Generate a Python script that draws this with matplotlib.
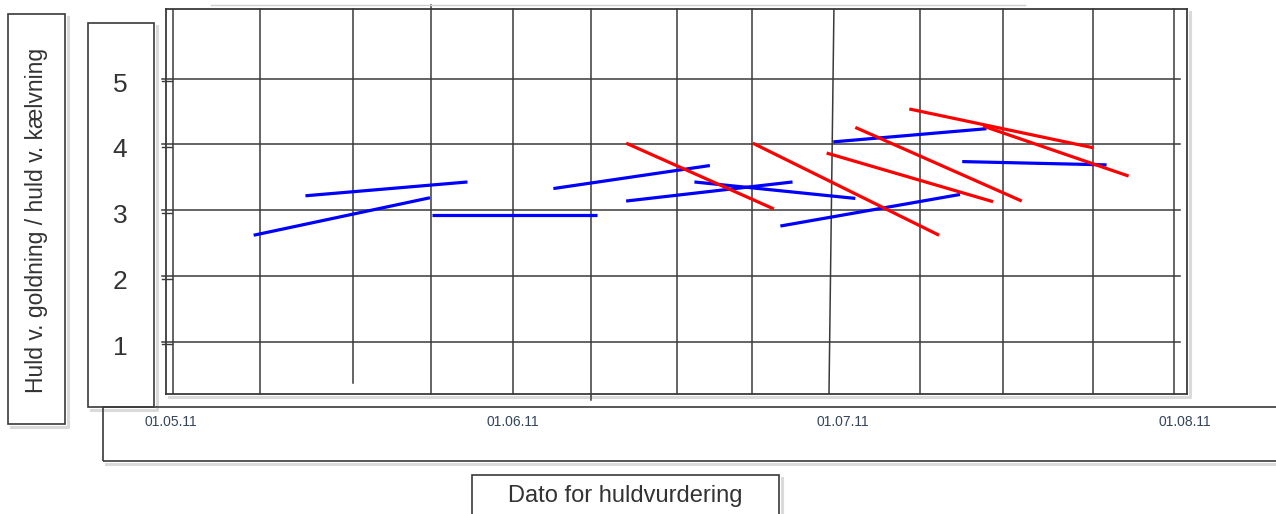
import matplotlib

matplotlib.use("Agg")
import matplotlib.pyplot as plt
import matplotlib.transforms as mtransforms
from matplotlib.patches import Rectangle
from matplotlib.lines import Line2D

plt.rcParams["font.family"] = ["Liberation Sans", "DejaVu Sans"]

W, H = 1276, 514

# x in days since 01.05.11, y = huld score
blue_x0 = [7.5, 12.2, 23.7, 34.7, 41.3, 47.5, 55.3, 60.1, 71.8]
blue_x1 = [23.5, 26.9, 38.7, 48.9, 56.4, 62.1, 71.6, 74.0, 84.9]
blue_y0 = [2.62, 3.22, 2.93, 3.33, 3.14, 3.43, 2.76, 4.04, 3.74]
blue_y1 = [3.19, 3.43, 2.93, 3.68, 3.43, 3.18, 3.24, 4.24, 3.69]

red_x0 = [41.3, 52.8, 59.5, 62.1, 67.0, 73.7]
red_x1 = [54.7, 69.7, 74.6, 77.2, 83.7, 86.9]
red_y0 = [4.02, 4.02, 3.87, 4.26, 4.54, 4.28]
red_y1 = [3.02, 2.62, 3.13, 3.14, 3.95, 3.52]

y_ticks = [1, 2, 3, 4, 5]
x_tick_days = [0, 31, 61, 92]
x_tick_labels = ["01.05.11", "01.06.11", "01.07.11", "01.08.11"]

# hand-drawn vertical grid (days) and where each line starts / ends
grid_days = [8.1, 16.5, 23.6, 31.0, 38.1, 45.9, 52.75, 68.0, 75.5, 83.7, 91.0]
grid_lo = [0.201, 0.373, 0.201, 0.201, 0.11, 0.201, 0.201, 0.201, 0.201, 0.201, 0.201]
grid_hi = [6.056, 6.056, 6.12, 6.056, 6.056, 6.056, 6.056, 6.056, 6.056, 6.056, 6.056]

GRID = "#3a3a3a"
TXT = "#333333"
SHADOW = "#dadada"


def fx(px):
    return px / W


def fy(py):
    return 1 - py / H


def shadow(fig, l, t, r, b):
    # soft drop shadow on the right and bottom edges
    fig.lines.append(Line2D([fx(l + 3), fx(r + 3), fx(r + 3)], [fy(b + 3), fy(b + 3), fy(t + 3)],
                            transform=fig.transFigure, color=SHADOW, lw=2.2, zorder=-1))


def box(fig, l, t, r, b):
    shadow(fig, l, t, r, b)
    fig.patches.append(Rectangle((fx(l), fy(b)), fx(r) - fx(l), fy(t) - fy(b),
                                 transform=fig.transFigure, fill=False,
                                 ec=GRID, lw=1.2, zorder=1))


fig = plt.figure(figsize=(W / 100, H / 100), dpi=100)

# plot frame: 166..1187 px wide, 9..394 px tall
ax = fig.add_axes([fx(166), fy(394.3), fx(1187) - fx(166), fy(9.3) - fy(394.3)])
ax.set_xlim(-0.454, 92.2)
ax.set_ylim(0.201, 6.056)
ax.set_xticks([])
ax.set_yticks([])
for sp in ax.spines.values():
    sp.set_color(GRID)
    sp.set_linewidth(1.3)
shadow(fig, 166, 9.3, 1187, 394.3)

# horizontal grid with small double ticks on the left
for y in y_ticks:
    ax.plot([-0.82, 91.56], [y, y], color=GRID, lw=1.1, clip_on=False, zorder=1)
    ax.plot([-0.82, 0.1], [y - 0.04, y - 0.04], color=GRID, lw=1.0, clip_on=False, zorder=1)

# vertical grid
for d, lo, hi in zip(grid_days, grid_lo, grid_hi):
    ax.plot([d, d], [lo, hi], color=GRID, lw=1.1, clip_on=False, zorder=1)
ax.plot([0.18, 0.18], [0.201, 6.056], color=GRID, lw=1.1, zorder=1)
ax.plot([59.71, 60.16], [0.201, 6.056], color=GRID, lw=1.1, zorder=1)
ax.plot([3.6, 77.5], [6.12, 6.12], color="#d0d0d0", lw=1.0, clip_on=False)

for x0, x1, y0, y1 in zip(blue_x0, blue_x1, blue_y0, blue_y1):
    ax.plot([x0, x1], [y0, y1], color="#0000ff", lw=2.3, solid_capstyle="butt", zorder=3)
for x0, x1, y0, y1 in zip(red_x0, red_x1, red_y0, red_y1):
    ax.plot([x0, x1], [y0, y1], color="#ff0000", lw=2.3, solid_capstyle="butt", zorder=4)

# boxes around the labels
box(fig, 8.3, 14.3, 65, 424.3)
box(fig, 87.7, 23.3, 154.3, 406.7)
box(fig, 103, 406.7, 1280, 461)
box(fig, 472, 475, 779, 520)

fig.text(fx(37), fy(220), "Huld v. goldning / huld v. kælvning", rotation=90,
         ha="center", va="center", fontsize=16.5, color=TXT)

ytrans = mtransforms.blended_transform_factory(fig.transFigure, ax.transData)
for y in y_ticks:
    fig.text(fx(120), y - 0.09, str(y), transform=ytrans, ha="center", va="center",
             fontsize=19, color=TXT)

xtrans = mtransforms.blended_transform_factory(ax.transData, fig.transFigure)
for d, lab in zip(x_tick_days, x_tick_labels):
    fig.text(d, fy(421.5), lab, transform=xtrans, ha="center", va="center",
             fontsize=10, color="#34445a")

fig.text(fx(625), fy(496), "Dato for huldvurdering", ha="center", va="center",
         fontsize=17, color=TXT)

fig.savefig("out.png", dpi=100)
